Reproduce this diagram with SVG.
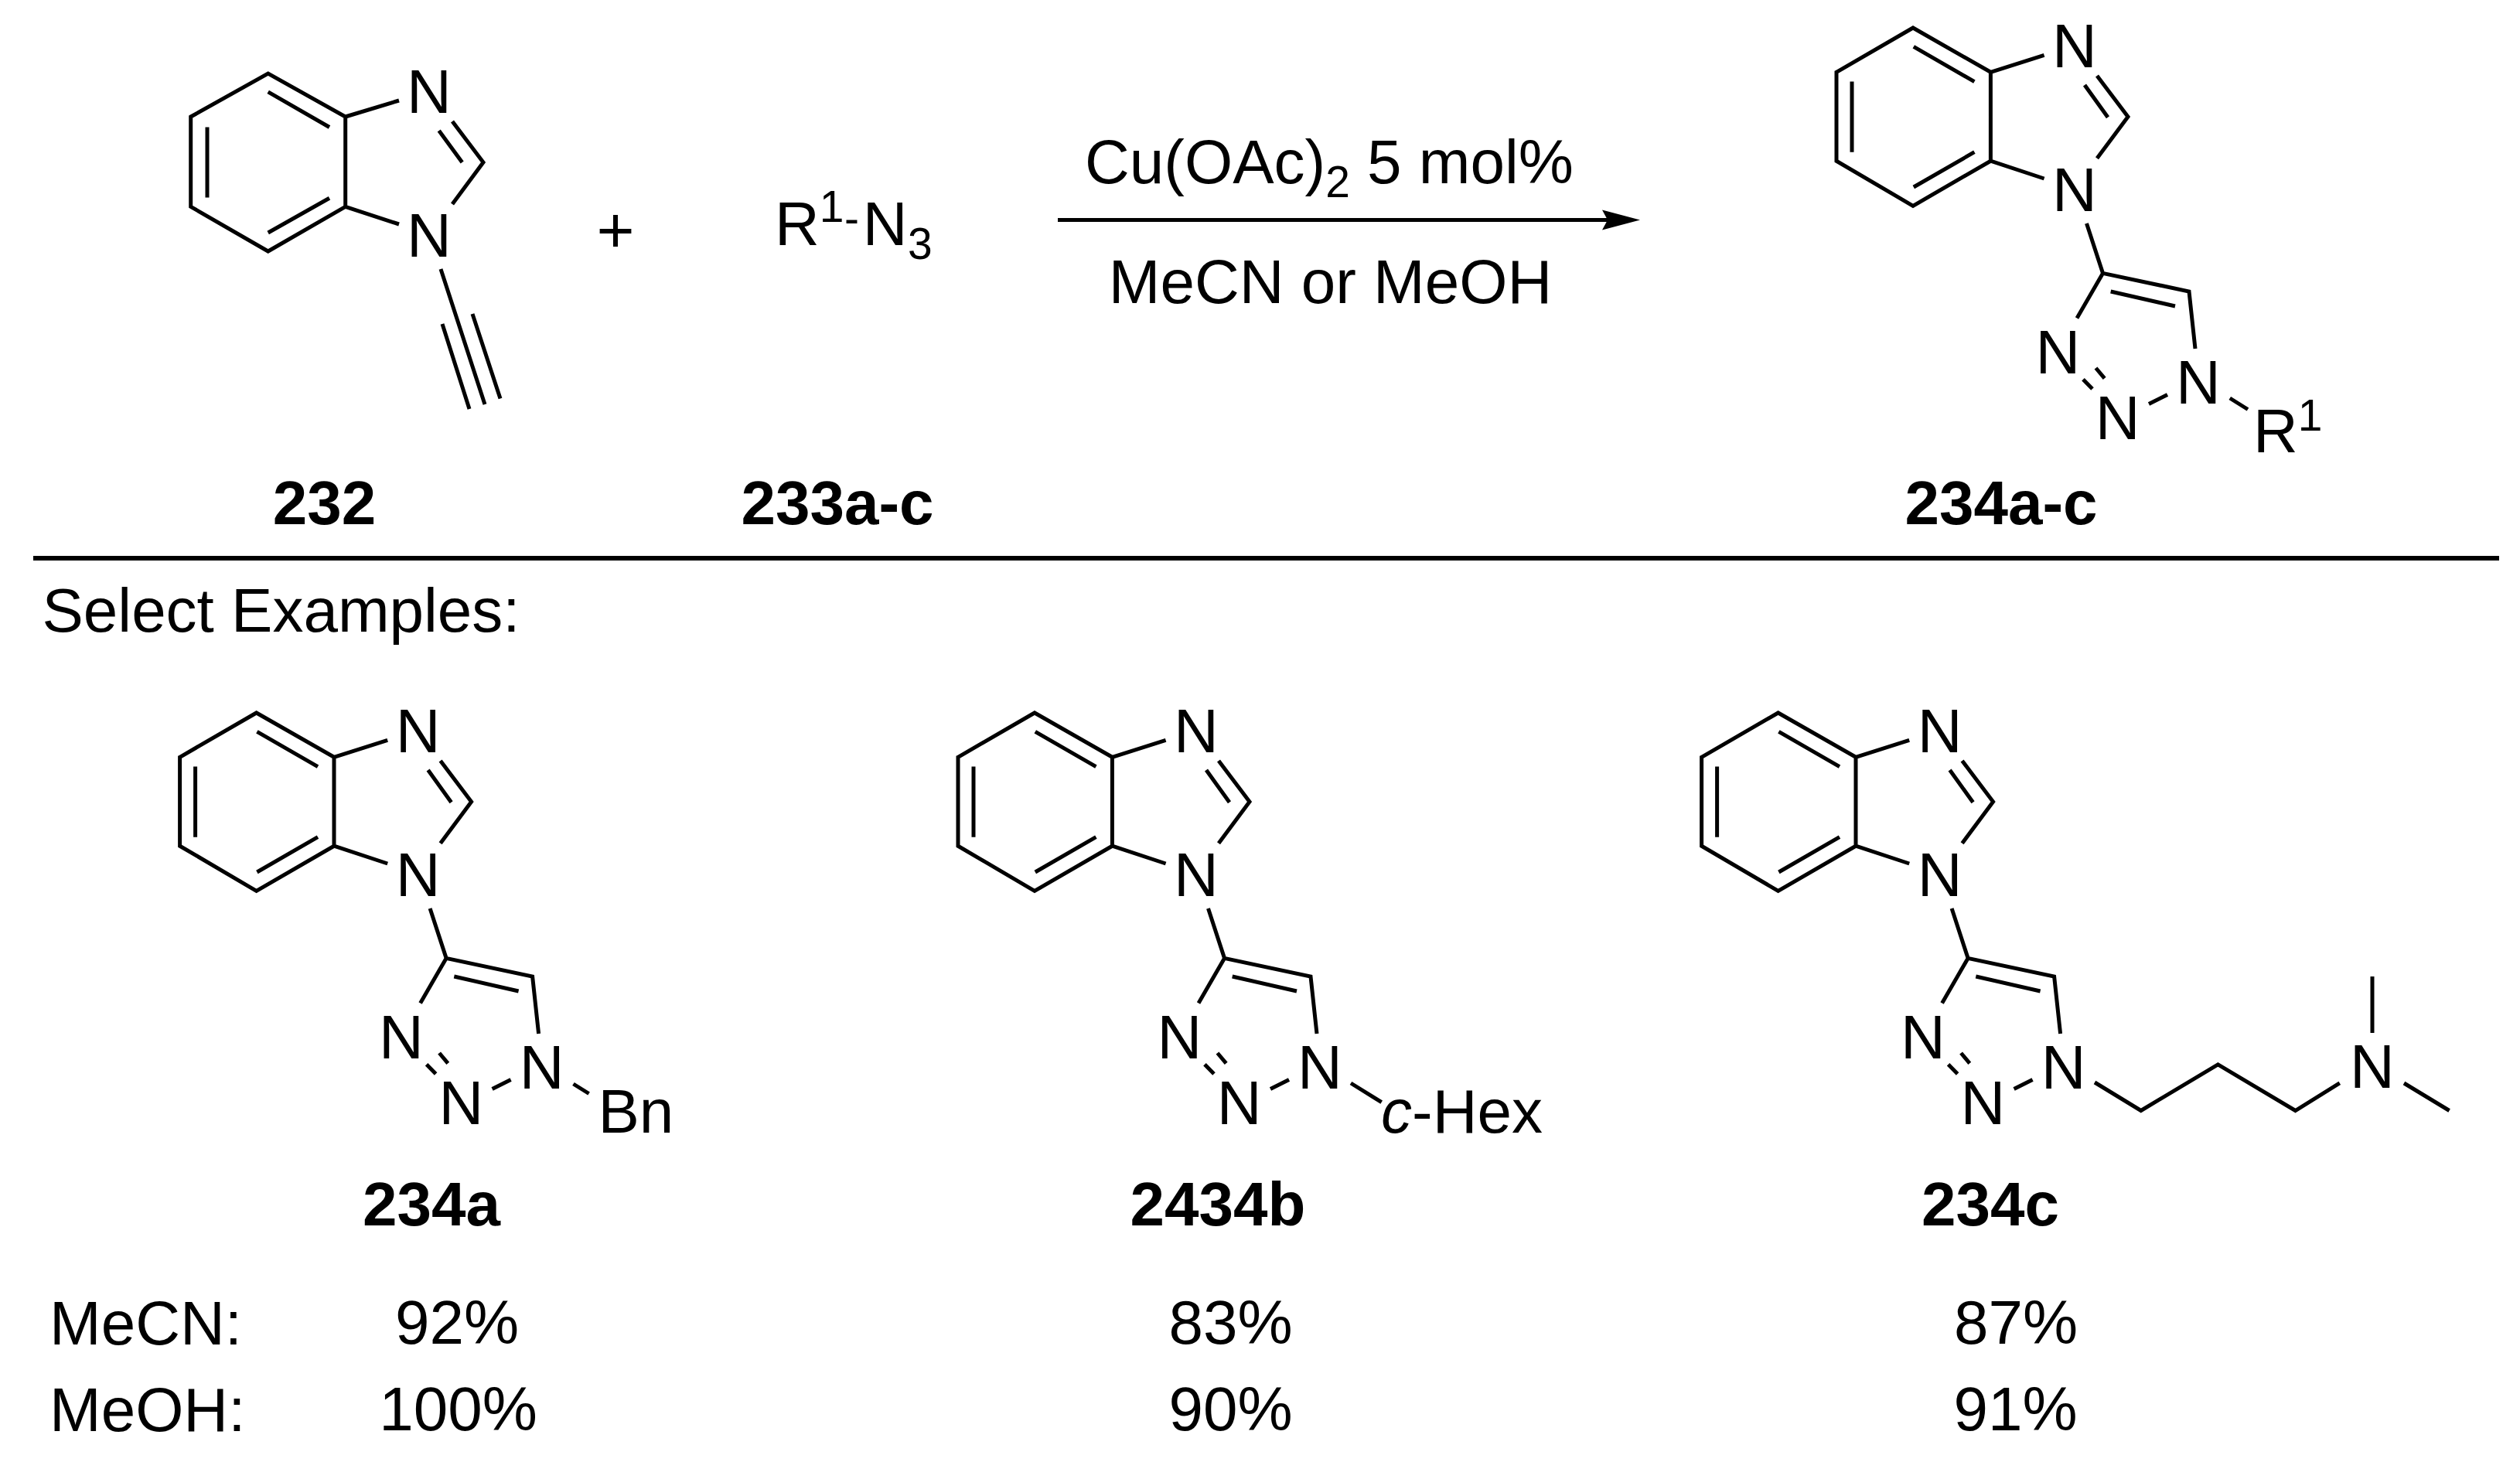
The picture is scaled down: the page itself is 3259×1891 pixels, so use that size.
<svg xmlns="http://www.w3.org/2000/svg" xmlns:xlink="http://www.w3.org/1999/xlink" width="3259" height="1891" viewBox="0 0 3259 1891">
<style>
text{font-family:"Liberation Sans",Arial,sans-serif;font-size:80px;fill:#000}
.m{text-anchor:middle}
.b{font-weight:bold}
.s{font-size:57px}
.i{font-style:italic}
.bond{fill:none;stroke:#000;stroke-width:5;stroke-miterlimit:10}
</style>
<defs>
<marker id="head" markerUnits="userSpaceOnUse" markerWidth="50" markerHeight="28" refX="7" refY="14" orient="auto"><path d="M0 1L49 14L0 27L7 14Z" fill="#000"/></marker>
<path id="scaffold" class="bond" d="M2375 93.3L2474 36L2574.4 93.3V208.2L2474 266.3L2375 208.2ZM2474.8 60.3L2553.4 105.6M2395 105.6V196.7M2474.8 242L2553.4 196.7M2574.4 93.3L2643.6 71.3M2574.4 208.2L2643.6 231M2712 98L2752 151L2712 204.7M2696 110L2726 151.8M2698.5 289L2719.5 353.4L2831 377L2839 451M2719.5 353.4L2686 411.5M2729.7 377L2813 396M2710.5 476L2721.7 489.4M2694 490.8L2706 503M2779 522.4L2803 510.6"/>
</defs>
<rect width="3259" height="1891" fill="#fff"/>
<g id="connectors">
<line id="reaction-arrow" class="bond" x1="1368" y1="284.5" x2="2079" y2="284.5" marker-end="url(#head)"/>
<line id="separator" x1="43" y1="722" x2="3232" y2="722" stroke="#000" stroke-width="6"/>
</g>
<g id="compound-232">
<path class="bond" d="M246.7 151L346.7 95L446.7 151V267.3L346.7 325L246.7 267.3ZM346.7 118.8L426 164.5M268 164.5V255.5M346.7 301L426 256.3M446.7 151L516 130M446.7 267.3L516 290M585 157L625 210L585 264M567.7 169L597.7 210M570 348L627 523M572 419L607 529M611 406L647 515.5"/>
<text class="m" x="555" y="146">N</text>
<text class="m" x="555" y="332">N</text>
<text class="m b" x="419.5" y="678">232</text>
</g>
<g id="plus"><text class="m" x="796" y="326" style="font-size:84px">+</text></g>
<g id="compound-233">
<text x="1002" y="316.7">R<tspan class="s" x="1059.8" y="287">1</tspan><tspan class="s" x="1092" y="302">-</tspan><tspan x="1115.7" y="316.7">N</tspan><tspan class="s" x="1174" y="334.5">3</tspan></text>
<text class="m b" x="1083" y="678">233a-c</text>
</g>
<g id="conditions">
<text x="1403" y="236.7">Cu(OAc)<tspan class="s" dy="18.5">2</tspan><tspan dy="-18.5"> 5 mol%</tspan></text>
<text class="m" x="1720.5" y="391.7">MeCN or MeOH</text>
</g>
<g id="compound-234a-c">
<use href="#scaffold" xlink:href="#scaffold"/>
<text class="m" x="2683" y="86.7">N</text>
<text class="m" x="2683" y="272.9">N</text>
<text class="m" x="2661.4" y="482.8">N</text>
<text class="m" x="2738.7" y="567.8">N</text>
<text class="m" x="2843" y="521.6">N</text>
<path class="bond" d="M2883.8 515L2907 529.5"/>
<text x="2914" y="585.4">R<tspan class="s" x="2971.8" y="556.8">1</tspan></text>
<text class="m b" x="2588" y="678">234a-c</text>
</g>
<text id="select-examples" x="54.5" y="817">Select Examples:</text>
<g id="compound-234a">
<g transform="translate(-2142.4 886)">
<use href="#scaffold" xlink:href="#scaffold"/>
<text class="m" x="2683" y="86.7">N</text>
<text class="m" x="2683" y="272.9">N</text>
<text class="m" x="2661.4" y="482.8">N</text>
<text class="m" x="2738.7" y="567.8">N</text>
<text class="m" x="2843" y="521.6">N</text>
</g>
<path class="bond" d="M741.5 1402L761.6 1414.5"/>
<text x="773.5" y="1465">Bn</text>
<text class="m b" x="558" y="1584.7">234a</text>
</g>
<g id="compound-2434b">
<g transform="translate(-1136 886)">
<use href="#scaffold" xlink:href="#scaffold"/>
<text class="m" x="2683" y="86.7">N</text>
<text class="m" x="2683" y="272.9">N</text>
<text class="m" x="2661.4" y="482.8">N</text>
<text class="m" x="2738.7" y="567.8">N</text>
<text class="m" x="2843" y="521.6">N</text>
</g>
<path class="bond" d="M1747 1401L1786.7 1425.7"/>
<text x="1786" y="1465"><tspan class="i">c</tspan>-Hex</text>
<text class="m b" x="1575" y="1585">2434b</text>
</g>
<g id="compound-234c">
<g transform="translate(-174.4 886)">
<use href="#scaffold" xlink:href="#scaffold"/>
<text class="m" x="2683" y="86.7">N</text>
<text class="m" x="2683" y="272.9">N</text>
<text class="m" x="2661.4" y="482.8">N</text>
<text class="m" x="2738.7" y="567.8">N</text>
<text class="m" x="2843" y="521.6">N</text>
</g>
<path class="bond" d="M2709 1400L2768.8 1436.5L2868.4 1376.8L2968.5 1436.5L3025.8 1400.9M3068 1263V1336M3109 1401L3167.6 1436.5"/>
<text class="m" x="3068" y="1407">N</text>
<text class="m b" x="2574" y="1585">234c</text>
</g>
<g id="yields">
<text x="64" y="1738.7">MeCN:</text>
<text x="64" y="1851">MeOH:</text>
<text class="m" x="591" y="1737.5">92%</text>
<text class="m" x="592.5" y="1849.5">100%</text>
<text class="m" x="1591.5" y="1737.5">83%</text>
<text class="m" x="1591.5" y="1849.5">90%</text>
<text class="m" x="2607" y="1737.5">87%</text>
<text class="m" x="2606.5" y="1849.5">91%</text>
</g>
</svg>
